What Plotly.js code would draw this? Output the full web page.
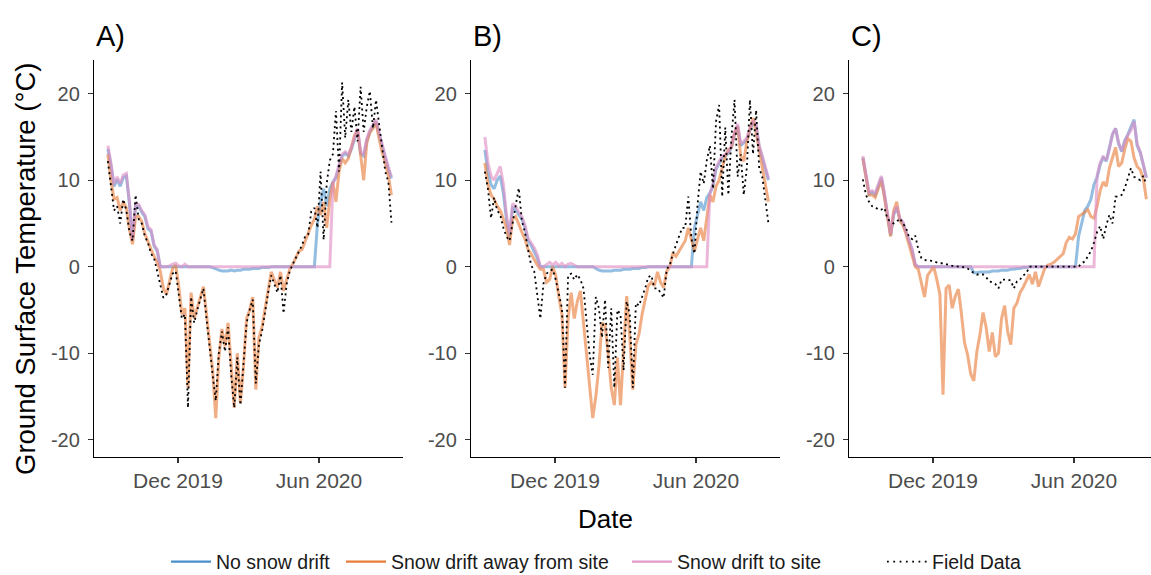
<!DOCTYPE html>
<html>
<head>
<meta charset="utf-8">
<script src="https://cdn.plot.ly/plotly-3.0.1.min.js"></script>
<style>html,body{margin:0;padding:0;background:#fff;}#plot{width:1151px;height:575px;}</style>
</head>
<body>
<div id="plot"></div>
<script>
const dates = ['2019-09-01','2019-09-05','2019-09-09','2019-09-13','2019-09-17','2019-09-21','2019-09-25','2019-09-29',
'2019-10-03','2019-10-07','2019-10-11','2019-10-15','2019-10-19','2019-10-23','2019-10-27','2019-10-31',
'2019-11-04','2019-11-08','2019-11-12','2019-11-16','2019-11-20','2019-11-24','2019-11-28',
'2019-12-02','2019-12-06','2019-12-10','2019-12-14','2019-12-18','2019-12-22','2019-12-26','2019-12-30',
'2020-01-03','2020-01-07','2020-01-11','2020-01-15','2020-01-19','2020-01-23','2020-01-27','2020-01-31',
'2020-02-04','2020-02-08','2020-02-12','2020-02-16','2020-02-20','2020-02-24','2020-02-28',
'2020-03-03','2020-03-07','2020-03-11','2020-03-15','2020-03-19','2020-03-23','2020-03-27','2020-03-31',
'2020-04-04','2020-04-08','2020-04-12','2020-04-16','2020-04-20','2020-04-24','2020-04-28',
'2020-05-02','2020-05-06','2020-05-10','2020-05-14','2020-05-18','2020-05-22','2020-05-26','2020-05-30',
'2020-06-03','2020-06-07','2020-06-11','2020-06-15','2020-06-19','2020-06-23','2020-06-27',
'2020-07-01','2020-07-05','2020-07-09','2020-07-13','2020-07-17','2020-07-21','2020-07-25','2020-07-29',
'2020-08-02','2020-08-06','2020-08-10','2020-08-14','2020-08-18','2020-08-22','2020-08-26','2020-08-30',
'2020-09-03'];

// Panel A
const noDriftA = [13.6,11.7,9.3,10.1,9.3,10.3,10.5,7.3,3.1,7.0, 7.0,6.3,5.8,4.4,4.1,2.4,1.8,0,
0,0, 0,0,0,0,0,0,0,0,0,0, 0,0,0,0,
-0.1,-0.3,-0.4,-0.5,-0.5,-0.5, -0.4,-0.5,-0.4,-0.4,-0.3,-0.3,-0.3,-0.2,-0.2,-0.2, -0.1,-0.1,-0.1,0,
0,0,0,0,0,0, 0,0,0,0,0,0,0,0,
5.0,7.5,9.0,7.0,9.0,9.8,
10.3,11.6,12.8,13.1,12.8,13.6,14.8,15.8,13.1,12.8, 14.6,15.6,16.2,16.8,15.3,13.8,12.6,11.3,10.2];
const driftAwayA = [13.0,10.0,7.8,8.0,6.5,7.5,6.8,4.3,2.6,5.8, 5.8,5.2,3.8,2.8,2.0,1.2,0.5,-0.5,
-2.5,-3.2,-1.5,-0.2,0.2,-2.3,-5.5,-4.8,-14.0,-3.0, -6.0,-4.8,-3.5,-2.3,-5.5,-9.0,-12.0,-17.5,-10.5,-7.2, -9.2,-6.5,-12.0,-16.3,-10.0,-15.8,-11.5,-6.0,
-5.0,-3.5,-14.2,-8.2,-7.0,-4.8,-2.5,-0.6,-1.5,-2.4, -0.6,-2.8,-1.5,-0.3,0.3,1.1,1.8,2.0,3.0,4.0, 4.8,5.5,7.0,6.0,7.5,4.5,7.8,
9.8,7.5,11.0,12.5,12.0,12.5,13.8,15.2,15.8,12.5, 10.0,14.3,15.5,16.0,16.6,14.8,13.2,12.0,10.5,8.3];
const driftToA = [14.0,12.0,9.5,10.4,9.6,10.6,10.8,7.5,3.2,7.3, 7.2,6.5,6.0,4.6,4.3,2.5,2.0,0,
0,0,0.1,0.3,0.4,0.1,0,0.3,0,0,
0,0,0,0,0,0,0,0,0,0, 0,0,0,0,0,0,0,0,0,0, 0,0,0,0,0,0,0,0,0,0, 0,0,0,0,0,0,0,0,0,0, 0,0,0,0,0,
9.5,10.5,11.8,13.0,13.3,13.0,13.8,15.0,16.0,13.3, 13.0,14.8,15.8,16.4,17.0,15.5,14.0,12.8,11.5,10.4];
const fieldA = [12.2,9.5,6.5,7.0,5.0,7.8,6.5,4.0,3.0,8.3, 5.5,5.0,3.5,2.8,1.5,1.0,-0.5,-2.0,
-3.6,-3.2,-2.0,-0.8,-0.5,-3.0,-6.0,-5.5,-16.3,-3.5, -6.5,-5.0,-3.8,-2.5,-6.0,-9.5,-12.5,-15.5,-10.0,-7.5, -9.8,-7.0,-12.5,-16.3,-10.5,-16.0,-11.0,-6.5,
-5.0,-3.8,-13.5,-9.0,-7.5,-5.0,-3.0,-1.0,-2.0,-3.0, -1.0,-5.4,-2.0,-0.5,0.3,1.0,1.8,2.5,3.5,3.7, 6.4,6.8,4.5,11.0,3.1,9.6,12.3,
13.0,18.0,11.0,21.3,14.9,19.3,15.6,18.5,14.5,20.8, 15.6,18.5,20.3,16.0,19.3,16.5,13.5,11.0,9.8,5.1];

// Panel B
const noDriftB = [13.5,11.0,9.5,9.0,10.0,10.5,8.5,5.5,3.5,6.8, 6.6,6.0,5.5,4.5,3.0,2.5,1.8,1.0,0,
0,0,0,0,0,0,0,0,0,0, 0,0,0,0,0,0,0,
-0.2,-0.4,-0.5,-0.5,-0.5,-0.5,-0.4,-0.4,-0.4,-0.3, -0.3,-0.3,-0.2,-0.2,-0.2,-0.1,-0.1,0,
0,0,0,0,0,0,0,0,0,0, 0,0,0,0,
4.5,6.0,7.5,6.5,8.0,
8.5,9.3,11.3,12.0,12.6,12.8,13.1,13.8,15.3,16.3, 14.0,14.3,14.7,15.8,16.6,16.3,13.8,12.6,11.2,10.0];
const driftAwayB = [12.0,9.5,8.3,7.8,7.0,6.5,5.5,4.5,2.5,5.5, 5.8,4.8,4.0,3.2,2.0,1.5,0.8,0.2,-0.3,
-0.3,-1.8,-1.5,0,-1.0,-3.5,-5.5,-14.0,-6.0,-3.0, -6.0,-4.0,-2.8,-6.5,-10.2,-13.8,-17.5,-15.0,-11.5,-6.5, -6.8,-10.0,-14.0,-16.0,-10.5,-16.0,-10.0,
-3.4,-8.0,-14.2,-9.0,-7.8,-5.5,-4.0,-2.2,-1.8,-2.2, -0.6,-1.8,-2.4,-0.5,0,1.6,1.2,1.8,2.4,3.0, 4.5,3.0,1.8,3.2,4.5,3.0,6.0,
8.3,7.5,9.3,10.0,11.3,12.8,13.5,13.8,15.5,16.2, 12.8,12.2,14.5,16.0,17.2,15.5,13.5,11.8,9.8,7.5];
const driftToB = [15.0,12.0,10.5,10.0,10.8,11.6,9.5,6.0,3.8,7.3, 7.0,6.3,5.8,4.8,3.3,2.8,2.2,1.4,0,
0,0.3,0.5,0.2,0.5,0.1,0.4,0,0.3,0.4, 0.2,0,0,0,0,0,
0,0,0,0,0,0,0,0,0,0, 0,0,0,0,0,0,0,0,0,0, 0,0,0,0,0,0,0,0,0,0, 0,0,0,0,0,0,0,0,
8.5,9.5,11.5,12.2,12.8,13.0,13.3,14.0,15.5,16.5, 14.2,14.5,14.9,16.0,16.8,16.5,14.0,12.8,11.4,10.2];
const fieldB = [11.0,9.0,5.6,8.0,6.5,6.0,4.5,3.5,3.0,5.0, 7.0,9.1,5.3,4.0,2.0,0.2,-0.5,-3.2,-6.0,
-2.0,-0.8,-0.5,-0.3,-1.5,-3.0,-4.8,-14.0,-1.0,-0.8, -1.5,-0.9,-1.5,-2.5,-6.0,-10.2,-12.5,-3.5,-4.8,-8.2, -3.8,-11.7,-4.8,-14.0,-5.0,-5.5,-12.0,
-4.0,-5.5,-14.0,-4.2,-4.5,-3.5,-2.5,-1.2,-1.0,-2.5, -2.5,-3.0,-3.6,-0.3,0.2,1.5,2.5,3.5,
4.5,4.5,8.1,3.3,1.5,7.2,11.0,9.6,12.3,14.0, 9.0,16.8,18.7,8.1,16.1,8.3,15.0,19.3,10.4,13.0, 8.3,11.5,19.3,13.0,18.1,11.4,10.4,7.7,5.0];

// Panel C
const noDriftC = [12.6,10.6,8.4,8.6,8.3,9.3,10.3,8.3,5.8,3.6, 6.0,6.8,5.5,5.0,4.0,2.9,1.9,0.2,
0,0,0,0,0,0,0,0,0,0, 0,0,0,0,0,0,0,0,
-0.7,-0.7,-0.6,-0.6,-0.6,-0.6,-0.5,-0.5,-0.5,-0.4, -0.4,-0.4,-0.3,-0.3,-0.2,-0.2,-0.1,-0.1,
0,0,0,0,0,0,0,0,0,0, 0,0,0,0,0,0,
3.5,5.0,6.5,7.0,7.8,9.5,
10.3,11.8,12.6,12.2,13.6,15.3,16.0,14.2,13.3,14.6, 15.3,16.2,17.0,14.0,13.2,11.8,10.3];
const driftAwayC = [12.5,10.5,8.3,8.3,8.0,9.0,10.0,8.0,5.5,3.5, 6.5,7.5,5.3,4.8,3.8,2.6,1.5,0,-0.3,
-1.8,-3.5,-1.0,-0.5,0,-1.5,-3.2,-14.8,-2.5,-2.1, -4.8,-3.4,-2.6,-5.5,-8.8,-10.2,-12.4,-13.2,-9.8,-7.8, -5.3,-7.0,-9.8,-7.6,-10.4,-10.0,-6.0,
-4.5,-7.5,-9.0,-4.8,-4.2,-3.0,-2.4,-1.6,-0.9,-2.0, -0.6,-2.3,-1.2,-0.2,0.2,0.3,0.5,0.8,1.2,1.5, 2.8,3.4,3.2,3.8,5.8,6.0,6.3,
6.6,5.8,5.6,7.0,8.8,9.8,9.3,11.4,12.6,13.8, 11.6,12.0,13.6,14.8,14.5,12.6,11.6,11.2,10.2,7.8];
const driftToC = [12.8,10.8,8.6,8.8,8.5,9.5,10.5,8.5,6.0,3.8, 6.2,7.0,5.6,5.2,4.1,3.0,2.0,0.3,
0,0,0,0,0,0,0,0,0,0, 0,0,0,0,0,0,0,0,0,0, 0,0,0,0,0,0,0,0,0,0, 0,0,0,0,0,0,0,0,0,0, 0,0,0,0,0,0,0,0,0,0, 0,0,0,0,0,0,0,0,
10.5,12.0,12.8,12.3,13.6,15.3,16.0,14.3,13.4,14.5, 15.2,15.8,16.8,14.2,13.3,11.8,10.3];
const fieldC = [10.1,8.3,7.5,7.0,6.9,6.6,6.6,6.8,5.5,5.2, 5.0,5.2,5.6,5.0,4.5,3.4,3.2,3.6,2.0,
1.0,0.8,0.7,0.7,0.6,0.5,0.4,0.4,0.3,0.2, 0.1,0.1,0,0,-0.1,-0.2,
-0.5,-0.7,-0.9,-0.9,-0.9,-1.2,-1.7,-1.8,-2.0,-2.5, -1.5,-1.5,-1.5,-1.6,-2.5,-1.7,-1.5,-1.0,-0.8,
0,0,0,0,0,0,0,0,0,0, 0,0,0,0,0,0,0,
0.4,0.6,1.2,1.8,2.8,4.0,4.7,3.2,4.8,6.0, 5.0,8.1,8.1,8.3,9.1,10.2,11.4,10.4,10.2,10.0, 10.5,9.5];

const seriesNames = ['No snow drift','Snow drift away from site','Snow drift to site','Field Data'];
const panelTags = ['A)','B)','C)'];
const xTickVals = ['2019-12-01','2020-06-01'];
const xTickText = ['Dec 2019','Jun 2020'];
const yTickVals = [-20,-10,0,10,20];
const yTickText = ['-20','-10','0','10','20'];

[noDriftA,driftAwayA,driftToA,fieldA,noDriftB,driftAwayB,driftToB,fieldB,noDriftC,driftAwayC,driftToC,fieldC]
  .forEach((a,i)=>{ if(a.length!==dates.length) console.error('length mismatch', i, a.length); });

// ---- styling ----
const W = 1151, H = 575;
const px = v => v / W, py = v => 1 - v / H;
const FONT = 'Liberation Sans, Arial, Helvetica, sans-serif';
const colLine = ['rgba(58,137,201,0.55)','rgba(232,125,58,0.62)','rgba(222,140,196,0.62)','#000000'];
const colKey  = ['#4a8fcc','#e87d3a','#e39acb','#000000'];
const fieldDash = '2px,3.5px';

const panels = [
  {sets:[noDriftA,driftAwayA,driftToA,fieldA], xa:'x',  ya:'y'},
  {sets:[noDriftB,driftAwayB,driftToB,fieldB], xa:'x2', ya:'y2'},
  {sets:[noDriftC,driftAwayC,driftToC,fieldC], xa:'x3', ya:'y3'}
];

const traces = [];
panels.forEach(p => {
  p.sets.forEach((vals, s) => {
    traces.push({
      type:'scatter', mode:'lines', x:dates, y:vals, xaxis:p.xa, yaxis:p.ya,
      name:seriesNames[s], showlegend:false, hoverinfo:'skip',
      line: s===3 ? {color:colLine[3], width:1.8, dash:fieldDash} : {color:colLine[s], width:3}
    });
  });
});
// legend keys (no data)
const legendIds = ['legend','legend2','legend3','legend4'];
seriesNames.forEach((n, s) => {
  traces.push({
    type:'scatter', mode:'lines', x:[null], y:[null], xaxis:'x', yaxis:'y',
    name:n, showlegend:true, legend:legendIds[s], hoverinfo:'skip',
    line: s===3 ? {color:'#000', width:1.8, dash:'1.8px,4.5px'} : {color:colKey[s], width:2.2}
  });
});

function xAxis(d0, d1, r1, anchor) {
  return {domain:[px(d0), px(d1)], range:['2019-08-14', r1], type:'date', anchor:anchor,
    tickmode:'array', tickvals:xTickVals, ticktext:xTickText,
    showline:true, linecolor:'#000', linewidth:1.2, ticks:'outside', ticklen:5, tickwidth:1.1, tickcolor:'#333',
    tickfont:{family:FONT, size:21, color:'#4d4d4d'}, ticklabelstandoff:0,
    showgrid:false, zeroline:false, fixedrange:true, automargin:false};
}
function yAxis(anchor) {
  return {domain:[py(457), py(60)], range:[-22, 23.9], anchor:anchor,
    tickmode:'array', tickvals:yTickVals, ticktext:yTickText,
    showline:true, linecolor:'#000', linewidth:1.2, ticks:'outside', ticklen:5, tickwidth:1.1, tickcolor:'#333',
    tickfont:{family:FONT, size:20, color:'#4d4d4d'}, ticklabelstandoff:4,
    showgrid:false, zeroline:false, fixedrange:true, automargin:false};
}
function leg(xpx) {
  return {orientation:'h', xref:'container', yref:'container', x:px(xpx), xanchor:'left', y:py(562), yanchor:'middle', itemwidth:40,
    bgcolor:'rgba(0,0,0,0)', borderwidth:0, font:{family:FONT, size:19.5, color:'#1a1a1a'}};
}

const tagX = [94, 471, 849];
const annotations = panelTags.map((t,i) => ({
  text:t, xref:'paper', yref:'paper', x:px(tagX[i]), y:py(36), xanchor:'left', yanchor:'middle',
  showarrow:false, font:{family:FONT, size:29, color:'#000'}
}));
annotations.push({text:'Ground Surface Temperature (°C)', xref:'paper', yref:'paper', x:px(25), y:py(269),
  xanchor:'center', yanchor:'middle', textangle:-90, showarrow:false, font:{family:FONT, size:27.5, color:'#000'}});
annotations.push({text:'Date', xref:'paper', yref:'paper', x:px(605), y:py(519),
  xanchor:'center', yanchor:'middle', showarrow:false, font:{family:FONT, size:26, color:'#000'}});

const layout = {
  width:W, height:H, margin:{l:0, r:0, t:0, b:0, autoexpand:false}, paper_bgcolor:'#fff', plot_bgcolor:'rgba(0,0,0,0)',
  font:{family:FONT},
  xaxis: xAxis(94, 403, '2020-09-18', 'y'),
  xaxis2: xAxis(471, 780, '2020-09-18', 'y2'),
  xaxis3: xAxis(849, 1151, '2020-09-09', 'y3'),
  yaxis: yAxis('x'), yaxis2: yAxis('x2'), yaxis3: yAxis('x3'),
  legend: leg(166), legend2: leg(341), legend3: leg(627), legend4: leg(882),
  annotations: annotations, hovermode:false
};

Plotly.newPlot('plot', traces, layout, {displayModeBar:false, staticPlot:true});
</script>
</body>
</html>
